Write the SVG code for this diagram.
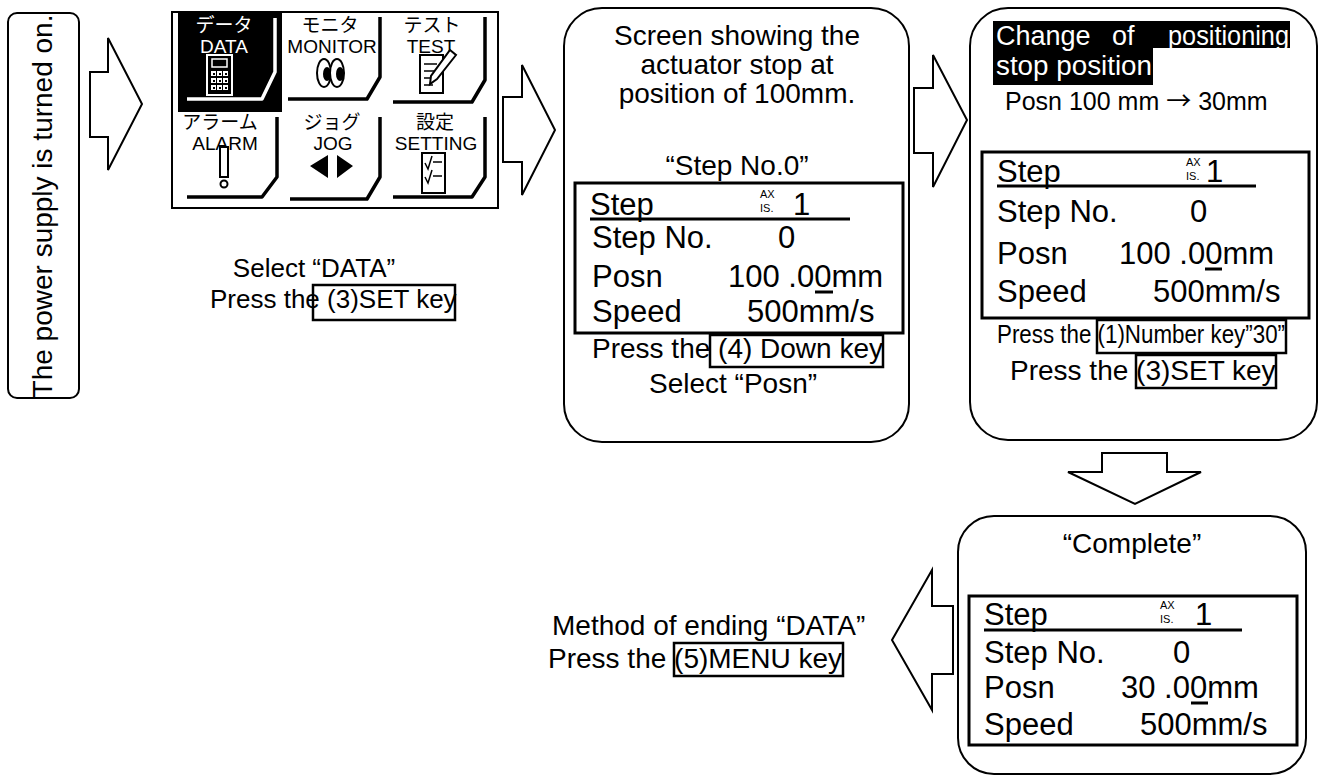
<svg xmlns="http://www.w3.org/2000/svg" width="1319" height="776" viewBox="0 0 1319 776">
<style>
.t{font-family:"Liberation Sans",Arial,"Noto Sans CJK JP",sans-serif;fill:#000}
.h{font-size:28px}
.m{font-size:26px}
.lcd{font-size:31px}
.sm{font-size:11px}
.jp{font-size:19px}
.w{fill:#fff}
.c{text-anchor:middle}
.box{fill:#fff;stroke:#000;stroke-width:2}
.lcdbox{fill:none;stroke:#000;stroke-width:3}
.arrow{fill:#fff;stroke:#000;stroke-width:2}
.key{fill:none;stroke:#000;stroke-width:2.5}
.ul{stroke:#000;stroke-width:3}
.br{fill:none;stroke:#000;stroke-width:3.5;stroke-linejoin:round}
.brw{fill:none;stroke:#fff;stroke-width:3.5;stroke-linejoin:round}
.ic{fill:#fff;stroke:#000;stroke-width:2}
</style>

<g id="connectors">
<path class="arrow" d="M90,72 H108 V38 L142,104 L108,170 V137 H90 Z"/>
<path class="arrow" d="M503,97 H522 V65 L555,130 L522,195 V162 H503 Z"/>
<path class="arrow" d="M914,88 H933 V55 L967,120 L933,187 V153 H914 Z"/>
<path class="arrow" d="M1102,453 H1167 V472 H1201 L1135,504 L1068,472 H1102 Z"/>
<path class="arrow" d="M953,606 H932 V570 L892,640 L932,710 V674 H953 Z"/>
</g>

<g id="power">
<rect class="box" x="8" y="13" width="71" height="385" rx="9"/>
<text class="t h c" transform="translate(52,206) rotate(-90)">The power supply is turned on.</text>
</g>

<g id="menu">
<rect class="box" x="172" y="12" width="326" height="196"/>
<rect x="178" y="12" width="104" height="100" fill="#000"/>
<path class="brw" d="M275,18 V72 L262,99 H187"/>
<path class="br" d="M380,17 V77 L367,99 H288"/>
<path class="br" d="M485,17 V80 L472,102 H393"/>
<path class="br" d="M277,117 V177 L262,197 H187"/>
<path class="br" d="M380,117 V177 L367,199 H290"/>
<path class="br" d="M485,117 V177 L472,197 H393"/>
<text class="t jp c w" x="224" y="32">データ</text>
<text class="t jp c w" x="224" y="53">DATA</text>
<text class="t jp c" x="330" y="32">モニタ</text>
<text class="t jp c" x="332" y="53">MONITOR</text>
<text class="t jp c" x="432" y="32">テスト</text>
<text class="t jp c" x="431" y="53">TEST</text>
<text class="t jp c" x="220" y="129">アラーム</text>
<text class="t jp c" x="225" y="150">ALARM</text>
<text class="t jp c" x="332" y="129">ジョグ</text>
<text class="t jp c" x="333" y="150">JOG</text>
<text class="t jp c" x="435" y="129">設定</text>
<text class="t jp c" x="436" y="150">SETTING</text>
<rect x="207" y="55" width="25" height="40" fill="#000" stroke="#fff" stroke-width="2"/>
<rect x="212" y="59" width="15" height="8" fill="#000" stroke="#fff" stroke-width="1.5"/>
<g fill="#fff">
<rect x="211" y="71" width="5" height="5"/><rect x="217" y="71" width="5" height="5"/><rect x="223" y="71" width="5" height="5"/>
<rect x="211" y="78" width="5" height="5"/><rect x="217" y="78" width="5" height="5"/><rect x="223" y="78" width="5" height="5"/>
<rect x="211" y="85" width="5" height="5"/><rect x="217" y="85" width="5" height="5"/><rect x="223" y="85" width="5" height="5"/>
</g>
<g fill="#000">
<rect x="213" y="73" width="2" height="2"/><rect x="219" y="73" width="2" height="2"/><rect x="225" y="73" width="2" height="2"/>
<rect x="213" y="80" width="2" height="2"/><rect x="219" y="80" width="2" height="2"/><rect x="225" y="80" width="2" height="2"/>
<rect x="213" y="87" width="2" height="2"/><rect x="219" y="87" width="2" height="2"/><rect x="225" y="87" width="2" height="2"/>
</g>
<ellipse class="ic" cx="324" cy="73" rx="7" ry="14"/>
<ellipse class="ic" cx="337" cy="73" rx="7" ry="14"/>
<ellipse cx="327" cy="74" rx="4" ry="7" fill="#000"/>
<ellipse cx="340" cy="74" rx="4" ry="7" fill="#000"/>
<rect class="ic" x="420" y="55" width="23" height="38"/>
<path d="M424,64 H437 M424,71 H437 M424,78 H434 M424,85 H433" stroke="#000" stroke-width="1.5"/>
<path class="ic" d="M450,50 L456,55 L437,79 L430,84 L431,76 Z"/>
<rect class="ic" x="220" y="147" width="8" height="30"/>
<circle class="ic" cx="224" cy="184" r="3.5"/>
<path d="M310,166 L328,155 L328,178 Z M353,166 L337,155 L337,178 Z" fill="#000"/>
<rect class="ic" x="422" y="153" width="23" height="40"/>
<path d="M425,163 L428,169 L432,156 M433,162 H442 M425,177 L428,183 L432,170 M433,176 H442" fill="none" stroke="#000" stroke-width="1.5"/>
</g>

<g id="select-data">
<text class="t m c" x="314" y="277">Select “DATA”</text>
<text class="t m" x="210" y="308">Press the (3)SET key</text>
<rect class="key" x="313" y="285" width="142" height="35"/>
</g>

<g id="screen1">
<rect class="box" x="564" y="8" width="345" height="434" rx="38"/>
<text class="t h c" x="737" y="45">Screen showing the</text>
<text class="t h c" x="737" y="74">actuator stop at</text>
<text class="t h c" x="737" y="103">position of 100mm.</text>
<text class="t h c" x="737" y="175">“Step No.0”</text>
<rect class="lcdbox" x="575" y="183" width="328" height="150"/>
<text class="t lcd" x="590" y="215">Step</text>
<line class="ul" x1="590" y1="219" x2="850" y2="219"/>
<text class="t sm" x="760" y="198">AX</text>
<text class="t sm" x="760" y="212">IS.</text>
<text class="t lcd" x="793" y="215">1</text>
<text class="t lcd" x="592" y="248">Step No.</text>
<text class="t lcd" x="778" y="248">0</text>
<text class="t lcd" x="592" y="287">Posn</text>
<text class="t lcd" x="728" y="287">100 .00mm</text>
<line class="ul" x1="815" y1="292" x2="833" y2="292"/>
<text class="t lcd" x="592" y="322">Speed</text>
<text class="t lcd" x="747" y="322">500mm/s</text>
<text class="t h" x="592" y="358">Press the (4) Down key</text>
<rect class="key" x="710" y="335" width="173" height="32"/>
<text class="t h c" x="733" y="393">Select “Posn”</text>
</g>

<g id="screen2">
<rect class="box" x="970" y="8" width="347" height="432" rx="38"/>
<rect x="993" y="21" width="297" height="27" fill="#000"/>
<rect x="993" y="48" width="160" height="37" fill="#000"/>
<text class="t w" font-size="27" x="996" y="45">Change</text>
<text class="t w" font-size="27" x="1112" y="45">of</text>
<text class="t w" font-size="27" x="1168" y="45" textLength="121" lengthAdjust="spacingAndGlyphs">positioning</text>
<text class="t w" font-size="27" x="996" y="75" textLength="156" lengthAdjust="spacingAndGlyphs">stop position</text>
<text class="t" font-size="25" x="1005" y="110">Posn 100 mm <tspan font-family="Noto Sans CJK JP, sans-serif">→</tspan> 30mm</text>
<rect class="lcdbox" x="982" y="152" width="327" height="166"/>
<text class="t lcd" x="997" y="182">Step</text>
<line class="ul" x1="997" y1="186" x2="1256" y2="186"/>
<text class="t sm" x="1186" y="166">AX</text>
<text class="t sm" x="1186" y="180">IS.</text>
<text class="t lcd" x="1206" y="182">1</text>
<text class="t lcd" x="997" y="222">Step No.</text>
<text class="t lcd" x="1190" y="222">0</text>
<text class="t lcd" x="997" y="264">Posn</text>
<text class="t lcd" x="1119" y="264">100 .00mm</text>
<line class="ul" x1="1205" y1="269" x2="1222" y2="269"/>
<text class="t lcd" x="997" y="302">Speed</text>
<text class="t lcd" x="1153" y="302">500mm/s</text>
<text class="t" font-size="25" x="997" y="343" textLength="288" lengthAdjust="spacingAndGlyphs">Press the (1)Number key”30”</text>
<rect class="key" x="1097" y="320" width="189" height="33"/>
<text class="t h" x="1010" y="380">Press the (3)SET key</text>
<rect class="key" x="1136" y="355" width="140" height="33"/>
</g>

<g id="screen3">
<rect class="box" x="958" y="516" width="348" height="258" rx="36"/>
<text class="t h c" x="1132" y="553">“Complete”</text>
<rect class="lcdbox" x="969" y="596" width="328" height="149"/>
<text class="t lcd" x="984" y="625">Step</text>
<line class="ul" x1="984" y1="630" x2="1242" y2="630"/>
<text class="t sm" x="1160" y="609">AX</text>
<text class="t sm" x="1160" y="623">IS.</text>
<text class="t lcd" x="1195" y="625">1</text>
<text class="t lcd" x="984" y="663">Step No.</text>
<text class="t lcd" x="1173" y="663">0</text>
<text class="t lcd" x="984" y="698">Posn</text>
<text class="t lcd" x="1121" y="698">30 .00mm</text>
<line class="ul" x1="1191" y1="703" x2="1208" y2="703"/>
<text class="t lcd" x="984" y="735">Speed</text>
<text class="t lcd" x="1140" y="735">500mm/s</text>
</g>

<g id="end-data">
<text class="t h" x="552" y="635">Method of ending “DATA”</text>
<text class="t h" x="548" y="668">Press the (5)MENU key</text>
<rect class="key" x="674" y="643" width="169" height="33"/>
</g>
</svg>
